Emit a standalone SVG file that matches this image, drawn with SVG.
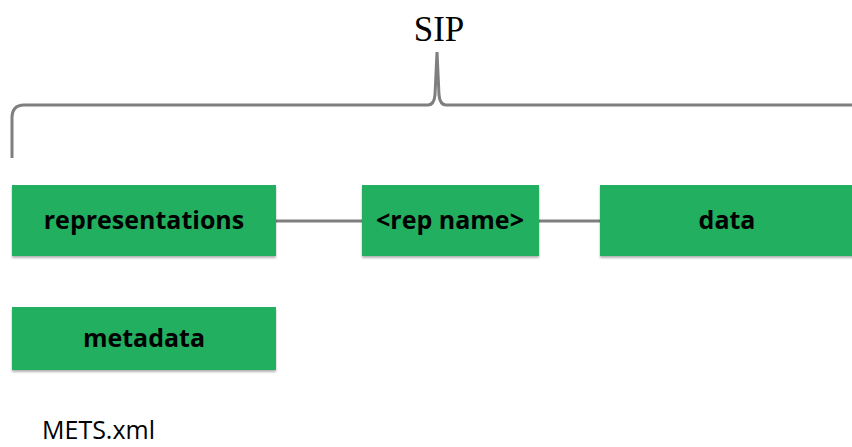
<svg xmlns="http://www.w3.org/2000/svg" width="852" height="447" viewBox="0 0 852 447">
<defs>
<style>
.box{fill:#22AF5F;filter:url(#sh)}
.lbl{font-family:"Open Sans","Liberation Sans",sans-serif;font-weight:bold;font-size:25px;fill:#000;text-anchor:middle}
.con{stroke:#7f7f7f;stroke-width:3;fill:none}
</style>
<filter id="sh" x="-5%" y="-10%" width="110%" height="125%">
<feDropShadow dx="0" dy="2" stdDeviation="1.2" flood-color="#000" flood-opacity="0.3"/>
</filter>
</defs>
<rect width="852" height="447" fill="#fff"/>
<text x="439" y="41" font-family="'Liberation Serif',serif" font-size="35" text-anchor="middle" fill="#000">SIP</text>
<g id="brace">
<path class="con" d="M12,158 L12,118 Q12,105 24,105 L428,105 Q434,105 435,95 L437,52 L439,95 Q440,105 446,105 L852,105"/>
</g>
<g id="connectors">
<line class="con" x1="276" y1="221" x2="362" y2="221"/>
<line class="con" x1="539" y1="221" x2="600" y2="221"/>
</g>
<g id="representations">
<rect class="box" x="12" y="185" width="264" height="71"/>
<text class="lbl" x="144" y="229">representations</text>
</g>
<g id="repname">
<rect class="box" x="362" y="185" width="177" height="71"/>
<text class="lbl" x="450" y="229">&lt;rep name&gt;</text>
</g>
<g id="data">
<rect class="box" x="600" y="185" width="256" height="71"/>
<text class="lbl" x="727" y="229">data</text>
</g>
<g id="metadata">
<rect class="box" x="12" y="307" width="264" height="63"/>
<text class="lbl" x="144" y="347">metadata</text>
</g>
<text x="42" y="439" font-family="'Open Sans','Liberation Sans',sans-serif" font-size="25" fill="#000">METS.xml</text>
</svg>
